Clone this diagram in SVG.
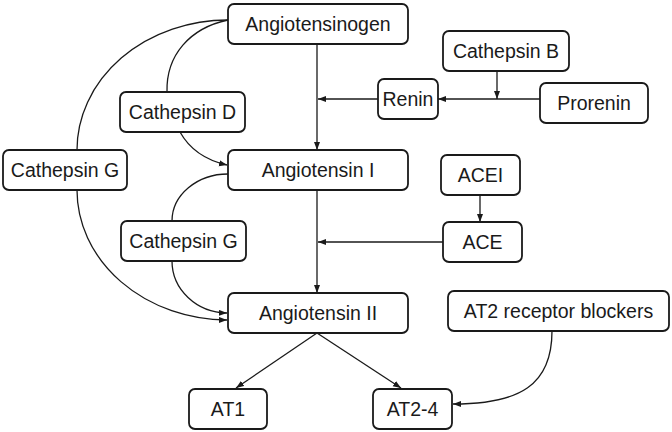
<svg xmlns="http://www.w3.org/2000/svg" width="672" height="432" viewBox="0 0 672 432">
<style>
.box{fill:#fff;stroke:#1a1a1a;stroke-width:1.8}
.lbl{font-family:"Liberation Sans",Arial,sans-serif;font-size:19.5px;fill:#1a1a1a;text-anchor:middle}
.ln{fill:none;stroke:#1a1a1a;stroke-width:1.3}
</style>
<defs>
<marker id="ah" markerUnits="userSpaceOnUse" markerWidth="9" markerHeight="7" refX="8" refY="3" orient="auto">
<path d="M0,0 L8,3 L0,6 z" fill="#1a1a1a"/>
</marker>
</defs>
<rect width="672" height="432" fill="#fff"/>
<g id="connectors">
<path class="ln" d="M317,44 V150" marker-end="url(#ah)"/>
<path class="ln" d="M317,190 V293" marker-end="url(#ah)"/>
<path class="ln" d="M378,99 H318" marker-end="url(#ah)"/>
<path class="ln" d="M540,99 H438" marker-end="url(#ah)"/>
<path class="ln" d="M497,71 V99" marker-end="url(#ah)"/>
<path class="ln" d="M480,195 V222" marker-end="url(#ah)"/>
<path class="ln" d="M443,242 H318" marker-end="url(#ah)"/>
<path class="ln" d="M317,333 L236,388" marker-end="url(#ah)"/>
<path class="ln" d="M317,333 L401,388" marker-end="url(#ah)"/>
<path class="ln" d="M552,331 C552,385 520,404 453,404" marker-end="url(#ah)"/>
<path class="ln" d="M228,20 A151,130 0 0 0 77,150"/>
<path class="ln" d="M77,190 A151,130 0 0 0 227,320" marker-end="url(#ah)"/>
<path class="ln" d="M228,20 C190,28 166,55 167,92"/>
<path class="ln" d="M180,132 C190,150 205,160 227,165" marker-end="url(#ah)"/>
<path class="ln" d="M228,174 A56,47 0 0 0 172,221"/>
<path class="ln" d="M172,261 A56,52 0 0 0 227,313" marker-end="url(#ah)"/>
</g>
<g id="angiotensinogen"><rect class="box" x="228" y="4" width="180" height="40" rx="6"/><text class="lbl" x="318" y="31">Angiotensinogen</text></g>
<g id="cathepsin-b"><rect class="box" x="443" y="31" width="126" height="40" rx="6"/><text class="lbl" x="506" y="58">Cathepsin B</text></g>
<g id="renin"><rect class="box" x="378" y="79" width="60" height="40" rx="6"/><text class="lbl" x="408" y="106">Renin</text></g>
<g id="prorenin"><rect class="box" x="540" y="83" width="108" height="40" rx="6"/><text class="lbl" x="594" y="110">Prorenin</text></g>
<g id="cathepsin-d"><rect class="box" x="120" y="92" width="125" height="40" rx="6"/><text class="lbl" x="182.5" y="119">Cathepsin D</text></g>
<g id="cathepsin-g1"><rect class="box" x="3" y="150" width="124" height="40" rx="6"/><text class="lbl" x="65" y="177">Cathepsin G</text></g>
<g id="angiotensin-1"><rect class="box" x="228" y="150" width="180" height="40" rx="6"/><text class="lbl" x="318" y="177">Angiotensin I</text></g>
<g id="acei"><rect class="box" x="441" y="155" width="79" height="40" rx="6"/><text class="lbl" x="480.5" y="182">ACEI</text></g>
<g id="ace"><rect class="box" x="443" y="222" width="79" height="40" rx="6"/><text class="lbl" x="482.5" y="249">ACE</text></g>
<g id="cathepsin-g2"><rect class="box" x="121" y="221" width="125" height="40" rx="6"/><text class="lbl" x="183.5" y="248">Cathepsin G</text></g>
<g id="angiotensin-2"><rect class="box" x="228" y="293" width="180" height="40" rx="6"/><text class="lbl" x="318" y="320">Angiotensin II</text></g>
<g id="at2-blockers"><rect class="box" x="448" y="291" width="221" height="40" rx="6"/><text class="lbl" x="558.5" y="318">AT2 receptor blockers</text></g>
<g id="at1"><rect class="box" x="189" y="389" width="78" height="40" rx="6"/><text class="lbl" x="228" y="416">AT1</text></g>
<g id="at2-4"><rect class="box" x="373" y="389" width="79" height="40" rx="6"/><text class="lbl" x="412.5" y="416">AT2-4</text></g>
</svg>
